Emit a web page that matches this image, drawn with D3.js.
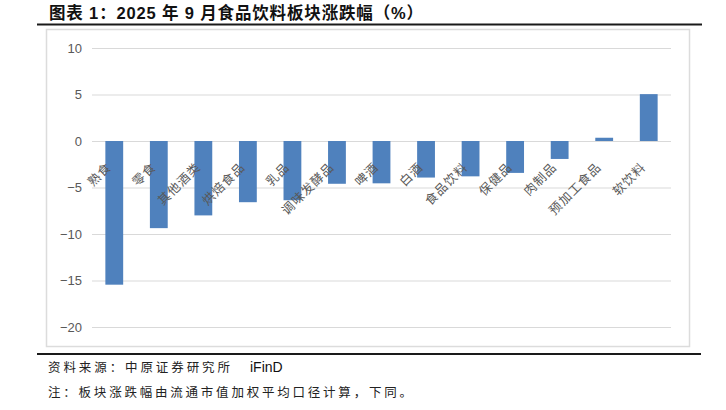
<!DOCTYPE html>
<html>
<head>
<meta charset="utf-8">
<script src="https://cdn.jsdelivr.net/npm/d3@7"></script>
<style>
  html, body { margin: 0; padding: 0; background: #fff; }
  svg { display: block; }
</style>
</head>
<body>
<svg id="chart" width="726" height="410"></svg>
<script>
const categories = ["熟食", "零食", "其他酒类", "烘焙食品", "乳品", "调味发酵品", "啤酒", "白酒", "食品饮料", "保健品", "肉制品", "预加工食品", "软饮料"];
const values = [-15.45, -9.37, -8.0, -6.58, -6.37, -4.6, -4.55, -3.93, -3.8, -3.43, -1.93, 0.35, 5.04];
const yTicks = [10, 5, 0, -5, -10, -15, -20];
const titleText = "图表 1：2025 年 9 月食品饮料板块涨跌幅（%）";
const sourceText = "资料来源：中原证券研究所";
const sourceTag = "iFinD";
const noteText = "注：板块涨跌幅由流通市值加权平均口径计算，下同。";

const svg = d3.select("#chart");
const cjk = "'Noto Sans CJK SC', 'Noto Sans', sans-serif";
const latin = "'Liberation Sans', Arial, 'Noto Sans CJK SC', sans-serif";

// Title
svg.append("text")
  .attr("x", 49).attr("y", 19)
  .attr("font-family", latin)
  .attr("font-weight", "bold")
  .attr("font-size", 16.5)
  .attr("fill", "#111")
  .attr("textLength", 374)
  .attr("lengthAdjust", "spacing")
  .text(titleText);

// Top thick rule
svg.append("line").attr("x1", 37).attr("x2", 702).attr("y1", 24.5).attr("y2", 24.5)
  .attr("stroke", "#1a1a1a").attr("stroke-width", 2);

// Chart frame
svg.append("rect").attr("x", 46.5).attr("y", 29.5).attr("width", 643).attr("height", 317)
  .attr("fill", "none").attr("stroke", "#dcdcdc").attr("stroke-width", 1.5);

// Bottom thick rule
svg.append("line").attr("x1", 37).attr("x2", 701).attr("y1", 354).attr("y2", 354)
  .attr("stroke", "#1a1a1a").attr("stroke-width", 2);

// Scales
const x = d3.scaleBand().domain(categories).range([92, 671]).paddingInner(0.6).paddingOuter(0.3);
const y = d3.scaleLinear().domain([-20, 10]).range([327, 48]);

// Gridlines
const grid = svg.append("g")
  .attr("transform", "translate(92,0)")
  .call(d3.axisLeft(y).tickValues(yTicks).tickSize(-579).tickFormat(""));
grid.select(".domain").remove();
grid.selectAll(".tick line").attr("stroke", "#d9d9d9").attr("stroke-width", 1);

// Y tick labels
const yAxis = svg.append("g")
  .attr("transform", "translate(82,0)")
  .call(d3.axisLeft(y).tickValues(yTicks).tickSize(0).tickPadding(0)
    .tickFormat(d => d < 0 ? "\u2212" + Math.abs(d) : String(d)));
yAxis.select(".domain").remove();
yAxis.selectAll(".tick text")
  .attr("font-family", latin)
  .attr("font-size", 13)
  .attr("fill", "#595959");

// Bars
svg.append("g").selectAll("rect")
  .data(values)
  .join("rect")
  .attr("x", (d, i) => x(categories[i]))
  .attr("width", x.bandwidth())
  .attr("y", d => y(Math.max(0, d)))
  .attr("height", d => Math.abs(y(d) - y(0)))
  .attr("fill", "#4f81bd");

// Category labels
svg.append("g").selectAll("text")
  .data(categories)
  .join("text")
  .attr("transform", d => `translate(${x(d) + x.bandwidth() / 2 - 6},${y(0) + 23}) rotate(-45)`)
  .attr("text-anchor", "end")
  .attr("dominant-baseline", "central")
  .attr("font-family", cjk)
  .attr("font-size", 12.5)
  .attr("letter-spacing", 1)
  .attr("fill", "#595959")
  .text(d => d);

// Source
svg.append("text")
  .attr("x", 48).attr("y", 372)
  .attr("font-family", cjk)
  .attr("font-size", 12.5)
  .attr("fill", "#222")
  .attr("textLength", 182)
  .attr("lengthAdjust", "spacing")
  .text(sourceText);
svg.append("text")
  .attr("x", 250).attr("y", 372)
  .attr("font-family", latin)
  .attr("font-size", 14)
  .attr("fill", "#111")
  .text(sourceTag);

// Note
svg.append("text")
  .attr("x", 48).attr("y", 397)
  .attr("font-family", cjk)
  .attr("font-size", 12.5)
  .attr("fill", "#222")
  .attr("textLength", 364)
  .attr("lengthAdjust", "spacing")
  .text(noteText);
</script>
</body>
</html>
